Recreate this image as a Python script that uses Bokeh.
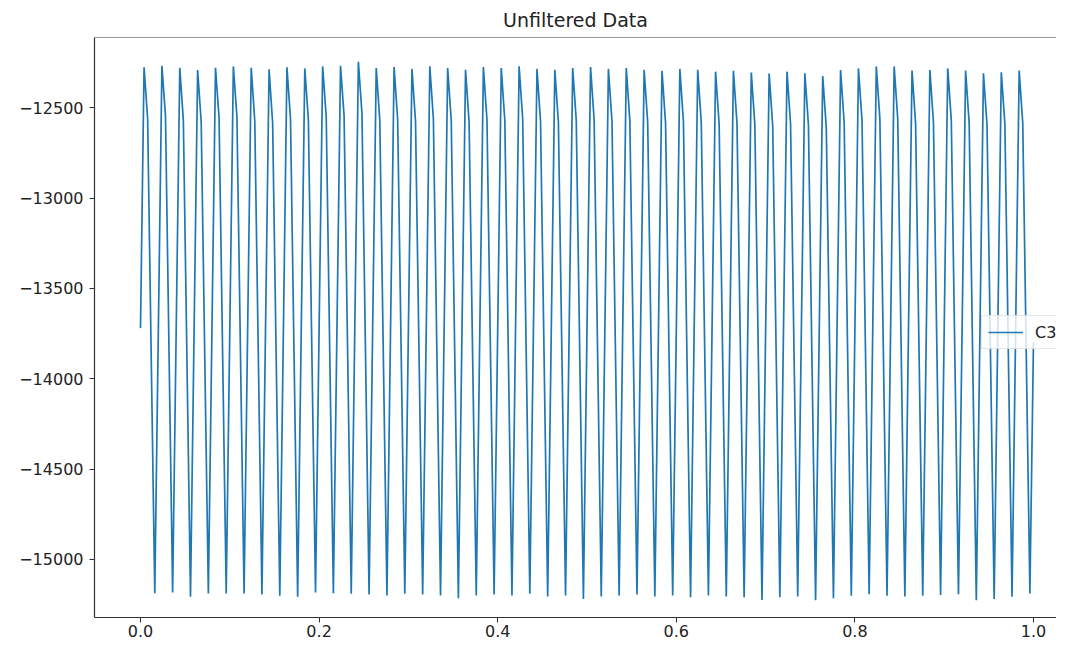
from bokeh.plotting import figure
from bokeh.models import Range1d, FixedTicker, Legend, LegendItem, Span
from bokeh.embed import file_html
from bokeh.resources import INLINE

TITLE = "Unfiltered Data"
SERIES_NAME = "C3"
SAMPLES_PER_UNIT = 250  # sample spacing along x (x = index / 250)

# one value per cycle (50 cycles)
peaks = [-12276, -12268, -12279, -12291, -12279, -12271, -12279, -12287, -12276, -12282,
         -12271, -12268, -12245, -12280, -12275, -12285, -12270, -12280, -12290, -12275,
         -12280, -12270, -12285, -12290, -12280, -12275, -12285, -12280, -12290, -12295,
         -12285, -12290, -12300, -12295, -12305, -12310, -12300, -12309, -12324, -12291,
         -12282, -12271, -12271, -12294, -12291, -12282, -12294, -12309, -12304, -12294]
shoulders = [-12560, -12545, -12570, -12580, -12555, -12550, -12575, -12585, -12560, -12565,
             -12550, -12545, -12530, -12570, -12565, -12575, -12560, -12570, -12580, -12565,
             -12570, -12560, -12575, -12580, -12570, -12565, -12575, -12570, -12580, -12585,
             -12575, -12580, -12590, -12585, -12595, -12600, -12590, -12595, -12610, -12580,
             -12570, -12560, -12560, -12585, -12580, -12570, -12585, -12595, -12590, -12585]
descents = [-13870, -13865, -13885, -13885, -13870, -13870, -13885, -13895, -13880, -13880,
            -13870, -13865, -13860, -13885, -13875, -13885, -13880, -13890, -13890, -13880,
            -13885, -13875, -13890, -13890, -13895, -13885, -13885, -13880, -13890, -13890,
            -13890, -13890, -13900, -13895, -13910, -13905, -13895, -13910, -13910, -13890,
            -13880, -13880, -13885, -13890, -13885, -13880, -13905, -13905, -13900, -13885]
troughs = [-15187, -15183, -15207, -15189, -15189, -15189, -15194, -15202, -15207, -15183,
           -15187, -15190, -15195, -15200, -15190, -15195, -15200, -15215, -15200, -15195,
           -15200, -15190, -15205, -15200, -15220, -15205, -15200, -15195, -15205, -15200,
           -15210, -15200, -15205, -15210, -15225, -15210, -15205, -15226, -15215, -15202,
           -15193, -15202, -15206, -15202, -15198, -15193, -15226, -15220, -15207, -15189]
# mid-rise values (one before each cycle, plus the final sample)
ascents = [-13720, -13730, -13725, -13745, -13740, -13735, -13730, -13735, -13745, -13740,
           -13735, -13730, -13720, -13720, -13740, -13735, -13735, -13745, -13745, -13735,
           -13740, -13730, -13745, -13745, -13750, -13740, -13740, -13740, -13745, -13750,
           -13745, -13745, -13750, -13750, -13765, -13760, -13755, -13765, -13770, -13745,
           -13740, -13735, -13740, -13750, -13745, -13740, -13760, -13765, -13755, -13745,
           -13800]

x_ticks = [0.0, 0.2, 0.4, 0.6, 0.8, 1.0]
x_tick_labels = ["0.0", "0.2", "0.4", "0.6", "0.8", "1.0"]
y_ticks = [-15000, -14500, -14000, -13500, -13000, -12500]
y_tick_labels = ["\u221215000", "\u221214500", "\u221214000", "\u221213500", "\u221213000", "\u221212500"]

# assemble the sampled signal
values = [ascents[0]]
for c in range(len(peaks)):
    values += [peaks[c], shoulders[c], descents[c], troughs[c], ascents[c + 1]]
xs = [i / SAMPLES_PER_UNIT for i in range(len(values))]

Y_END = -12111
p = figure(width=1056, height=639, output_backend="svg", toolbar_location=None,
           x_range=Range1d(-0.0515, 1.0258), y_range=Range1d(-15322, Y_END),
           min_border_left=94, min_border_right=0, min_border_top=37, min_border_bottom=10,
           title=TITLE)

FONT = "DejaVu Sans"
TXT = "#222222"
p.title.text_font = FONT
p.title.text_font_size = "19px"
p.title.text_font_style = "normal"
p.title.text_color = TXT
p.title.align = "center"
p.title.standoff = 13

p.outline_line_color = None
p.grid.visible = False
p.background_fill_color = "white"
p.border_fill_color = "white"

for ax in (p.xaxis, p.yaxis):
    ax.axis_line_color = "#333333"
    ax.axis_line_width = 1.2
    ax.major_tick_line_color = "#333333"
    ax.major_tick_out = 5
    ax.major_tick_in = 0
    ax.minor_tick_line_color = None
    ax.major_label_text_font = FONT
    ax.major_label_text_font_size = "16px"
    ax.major_label_text_color = TXT

p.xaxis.ticker = FixedTicker(ticks=x_ticks)
p.xaxis.major_label_overrides = dict(zip(x_ticks, x_tick_labels))
p.xaxis.major_label_standoff = 2
p.yaxis.ticker = FixedTicker(ticks=y_ticks)
p.yaxis.major_label_standoff = 6
p.yaxis.major_label_overrides = dict(zip(y_ticks, y_tick_labels))

p.add_layout(Span(location=Y_END, dimension="width", line_color="#333333", line_width=1.2))

r = p.line(xs, values, line_color="#1f77b4", line_width=1.7)

legend = Legend(items=[LegendItem(label=SERIES_NAME, renderers=[r])],
                location=(887, 268), margin=0, padding=6, spacing=0,
                glyph_width=35, glyph_height=20, label_standoff=12,
                label_text_font=FONT, label_text_font_size="16px", label_text_color=TXT,
                border_line_color="#cccccc", border_line_width=1,
                background_fill_color="white", background_fill_alpha=0.8)
p.add_layout(legend)

open("out.html", "w").write(file_html(p, INLINE))
